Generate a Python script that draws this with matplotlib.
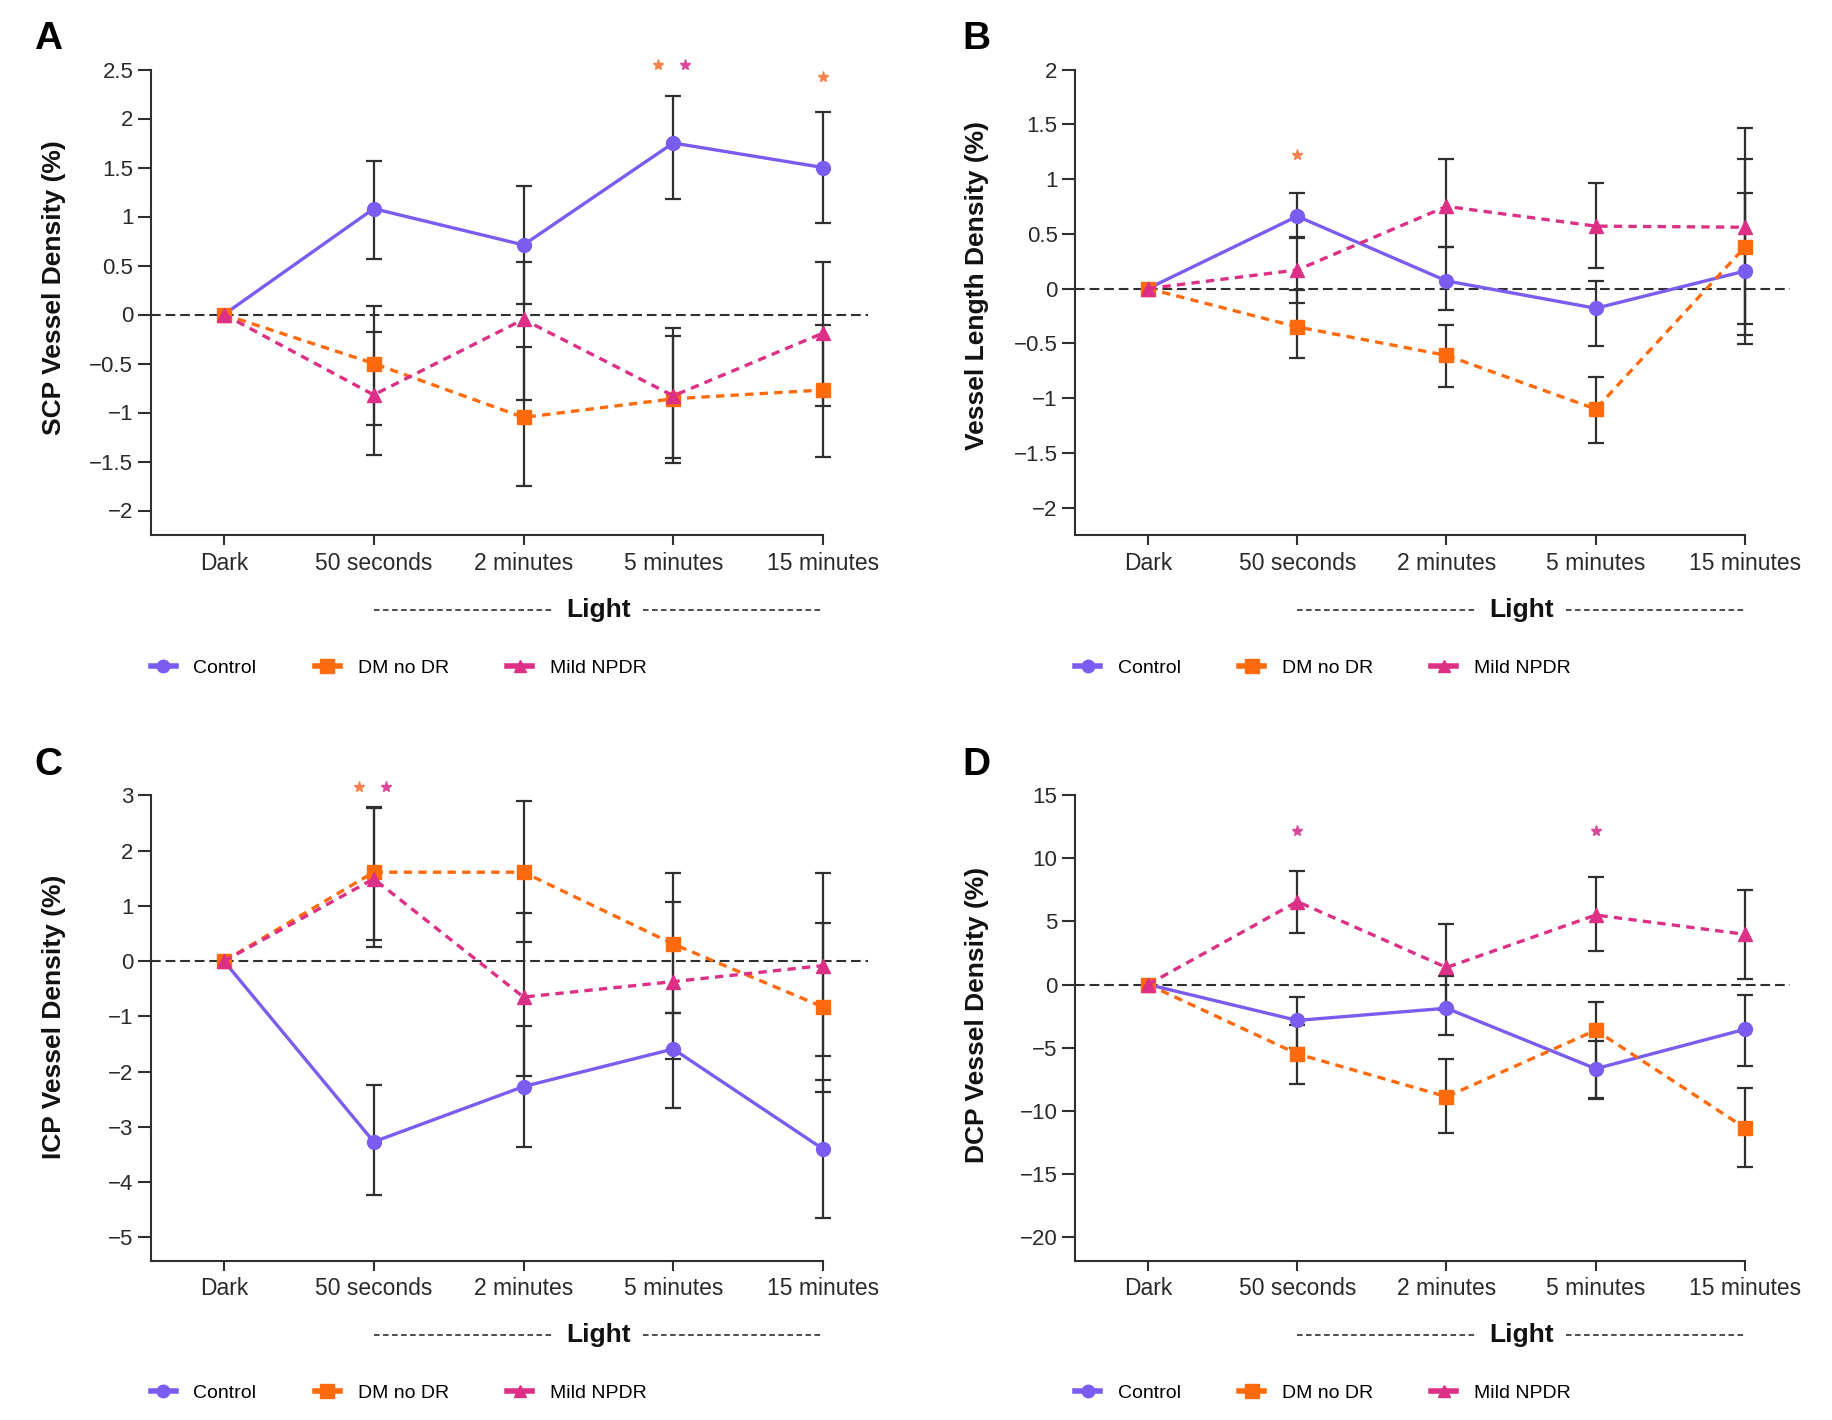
import matplotlib.pyplot as plt
from matplotlib.lines import Line2D
from matplotlib import transforms

plt.rcParams['font.family'] = ['Liberation Sans', 'DejaVu Sans']
plt.rcParams['lines.scale_dashes'] = False

W, H = 1833, 1420

timepoints = ['Dark', '50 seconds', '2 minutes', '5 minutes', '15 minutes']
groups = ['Control', 'DM no DR', 'Mild NPDR']

# A - SCP vessel density: mean, lower bound, upper bound of error bars
scp_control = [0, 1.08, 0.71, 1.75, 1.50]
scp_control_lo = [0, 0.57, 0.11, 1.18, 0.93]
scp_control_hi = [0, 1.57, 1.31, 2.23, 2.07]
scp_dm = [0, -0.50, -1.05, -0.86, -0.77]
scp_dm_lo = [0, -1.13, -1.75, -1.52, -1.45]
scp_dm_hi = [0, 0.09, -0.33, -0.14, -0.11]
scp_mild = [0, -0.82, -0.05, -0.83, -0.19]
scp_mild_lo = [0, -1.43, -0.87, -1.46, -0.93]
scp_mild_hi = [0, -0.18, 0.54, -0.22, 0.54]

# B - vessel length density
vld_control = [0, 0.66, 0.07, -0.18, 0.16]
vld_control_lo = [0, 0.46, -0.20, -0.52, -0.51]
vld_control_hi = [0, 0.87, 0.38, 0.07, 0.87]
vld_dm = [0, -0.35, -0.61, -1.10, 0.38]
vld_dm_lo = [0, -0.63, -0.90, -1.41, -0.42]
vld_dm_hi = [0, -0.01, -0.33, -0.81, 1.18]
vld_mild = [0, 0.17, 0.75, 0.57, 0.56]
vld_mild_lo = [0, -0.13, 0.38, 0.19, -0.32]
vld_mild_hi = [0, 0.47, 1.18, 0.96, 1.47]

# C - ICP vessel density
icp_control = [0, -3.27, -2.27, -1.59, -3.40]
icp_control_lo = [0, -4.24, -3.36, -2.66, -4.65]
icp_control_hi = [0, -2.25, -1.18, -0.94, -2.15]
icp_dm = [0, 1.61, 1.61, 0.31, -0.83]
icp_dm_lo = [0, 0.38, 0.34, -0.94, -2.36]
icp_dm_hi = [0, 2.79, 2.90, 1.59, 0.69]
icp_mild = [0, 1.49, -0.65, -0.37, -0.08]
icp_mild_lo = [0, 0.26, -2.07, -1.78, -1.71]
icp_mild_hi = [0, 2.77, 0.88, 1.07, 1.59]

# D - DCP vessel density
dcp_control = [0, -2.85, -1.88, -6.68, -3.55]
dcp_control_lo = [0, -5.0, -4.02, -9.0, -6.47]
dcp_control_hi = [0, -0.96, 0.70, -4.50, -0.85]
dcp_dm = [0, -5.50, -8.90, -3.63, -11.38]
dcp_dm_lo = [0, -7.90, -11.75, -9.10, -14.50]
dcp_dm_hi = [0, -3.20, -5.94, -1.35, -8.18]
dcp_mild = [0, 6.58, 1.35, 5.51, 3.98]
dcp_mild_lo = [0, 4.05, -2.00, 2.67, 0.43]
dcp_mild_hi = [0, 9.03, 4.76, 8.50, 7.50]

# significance stars: (time index, group, height)
scp_stars = [(3, 'DM no DR', 2.55), (3, 'Mild NPDR', 2.55), (4, 'DM no DR', 2.42)]
vld_stars = [(1, 'DM no DR', 1.22)]
icp_stars = [(1, 'DM no DR', 3.15), (1, 'Mild NPDR', 3.15)]
dcp_stars = [(1, 'Mild NPDR', 12.2), (3, 'Mild NPDR', 12.2)]

scp_ticks = [-2, -1.5, -1, -0.5, 0, 0.5, 1, 1.5, 2, 2.5]
scp_ticklabels = ['\u22122', '\u22121.5', '\u22121', '\u22120.5', '0', '0.5', '1', '1.5', '2', '2.5']
vld_ticks = [-2, -1.5, -1, -0.5, 0, 0.5, 1, 1.5, 2]
vld_ticklabels = ['\u22122', '\u22121.5', '\u22121', '\u22120.5', '0', '0.5', '1', '1.5', '2']
icp_ticks = [-5, -4, -3, -2, -1, 0, 1, 2, 3]
icp_ticklabels = ['\u22125', '\u22124', '\u22123', '\u22122', '\u22121', '0', '1', '2', '3']
dcp_ticks = [-20, -15, -10, -5, 0, 5, 10, 15]
dcp_ticklabels = ['\u221220', '\u221215', '\u221210', '\u22125', '0', '5', '10', '15']

colors = {'Control': '#7B5CF0', 'DM no DR': '#FF6A0D', 'Mild NPDR': '#DC2F86'}
star_colors = {'DM no DR': '#F5834E', 'Mild NPDR': '#D9489A'}
markers = {'Control': 'o', 'DM no DR': 's', 'Mild NPDR': '^'}
styles = {'Control': '-', 'DM no DR': (0, (6, 4.5)), 'Mild NPDR': (0, (6, 4.5))}
msizes = {'Control': 10, 'DM no DR': 10.5, 'Mild NPDR': 9.5}

XLIM = (-0.49, 4.3)
dark = '#2f2f2f'

fig = plt.figure(figsize=(W / 100, H / 100), dpi=100)


def make_panel(letter, ylabel, data, stars, ticks, ticklabels,
               x0_px, x4_px, bottom_px, ylo, ytick_top, ytick_top_px, ytop,
               ylabel_px, light_px, legend_px, letter_px):
    u = (x4_px - x0_px) / 4
    left_px = x0_px + XLIM[0] * u
    right_px = x0_px + XLIM[1] * u
    v = (bottom_px - ytick_top_px) / (ytick_top - ylo)
    top_px = ytick_top_px - (ytop - ytick_top) * v
    ax = fig.add_axes([left_px / W, 1 - bottom_px / H,
                       (right_px - left_px) / W, (bottom_px - top_px) / H])
    ax.set_xlim(*XLIM)
    ax.set_ylim(ylo, ytop)

    x = list(range(len(timepoints)))
    ax.axhline(0, color=dark, lw=1.5, ls=(0, (7, 3.5)), zorder=1)

    for g in groups:
        mean, lo, hi = data[g]
        ax.errorbar(x[1:], mean[1:],
                    yerr=[[m - l for m, l in zip(mean[1:], lo[1:])],
                          [h - m for m, h in zip(mean[1:], hi[1:])]],
                    fmt='none', ecolor=dark, elinewidth=1.6, capsize=5.5,
                    capthick=1.6, zorder=2)
    for g in groups:
        mean = data[g][0]
        ax.plot(x, mean, color=colors[g], ls=styles[g], lw=2.4,
                marker=markers[g], ms=msizes[g], mec=colors[g], zorder=3)

    # stars
    for idx, g, yv in stars:
        n_same = sum(1 for s in stars if s[0] == idx)
        off = 0 if n_same == 1 else (-0.1 if g == 'DM no DR' else 0.08)
        ax.plot(idx + off, yv, marker='*', ms=8, color=star_colors[g],
                mec=star_colors[g], ls='none', clip_on=False, zorder=4)

    ax.spines['top'].set_visible(False)
    ax.spines['right'].set_visible(False)
    for s in ['left', 'bottom']:
        ax.spines[s].set_color(dark)
        ax.spines[s].set_linewidth(1.5)
    ax.spines['left'].set_bounds(ylo, ytick_top)
    ax.spines['bottom'].set_bounds(XLIM[0], 4)

    ax.set_yticks(ticks)
    ax.set_yticklabels(ticklabels)
    ax.set_xticks(x)
    ax.set_xticklabels(timepoints)
    ax.tick_params(axis='y', length=9.5, width=1.5, color=dark, pad=3,
                   labelsize=16, labelcolor='#2a2a2a')
    ax.tick_params(axis='x', length=7, width=1.5, color=dark, pad=5,
                   labelsize=16.5, labelcolor='#2a2a2a')

    ax.set_ylabel(ylabel, fontsize=19, fontweight='bold', color='#111111',
                  va='center')
    ax.yaxis.set_label_coords((ylabel_px - left_px) / (right_px - left_px), 0.5)

    # "Light" line under the axis
    tr = transforms.blended_transform_factory(ax.transData, fig.transFigure)
    ly = 1 - light_px / H
    ax.plot([1, 2.2], [ly, ly], transform=tr, color=dark, lw=1.2,
            ls=(0, (4, 2.5)), clip_on=False)
    ax.plot([2.8, 4], [ly, ly], transform=tr, color=dark, lw=1.2,
            ls=(0, (4, 2.5)), clip_on=False)
    ax.text(2.5, ly, 'Light', transform=tr, ha='center', va='center',
            fontsize=19, fontweight='bold', color='#111111')

    # legend
    handles = [Line2D([], [], color=colors[g], lw=4, marker=markers[g],
                      ms=msizes[g] - 1, mec=colors[g]) for g in groups]
    ax.legend(handles, groups, loc='center left', ncol=3, frameon=False,
              bbox_to_anchor=(left_px / W, 1 - legend_px / H),
              bbox_transform=fig.transFigure, borderaxespad=0, borderpad=0,
              handlelength=1.3, handletextpad=0.9, columnspacing=3.0,
              prop={'size': 14})

    fig.text(letter_px[0] / W, 1 - letter_px[1] / H, letter, fontsize=28,
             fontweight='bold', ha='left', va='center')
    return ax


make_panel('A', 'SCP Vessel Density (%)',
           {'Control': (scp_control, scp_control_lo, scp_control_hi),
            'DM no DR': (scp_dm, scp_dm_lo, scp_dm_hi),
            'Mild NPDR': (scp_mild, scp_mild_lo, scp_mild_hi)},
           scp_stars, scp_ticks, scp_ticklabels,
           224, 823, 535, -2.25, 2.5, 69.5, 2.8, 54, 610, 668, (34, 39))

make_panel('B', 'Vessel Length Density (%)',
           {'Control': (vld_control, vld_control_lo, vld_control_hi),
            'DM no DR': (vld_dm, vld_dm_lo, vld_dm_hi),
            'Mild NPDR': (vld_mild, vld_mild_lo, vld_mild_hi)},
           vld_stars, vld_ticks, vld_ticklabels,
           1148, 1745, 535, -2.25, 2, 69.5, 2.3, 977, 610, 668, (962, 39))

make_panel('C', 'ICP Vessel Density (%)',
           {'Control': (icp_control, icp_control_lo, icp_control_hi),
            'DM no DR': (icp_dm, icp_dm_lo, icp_dm_hi),
            'Mild NPDR': (icp_mild, icp_mild_lo, icp_mild_hi)},
           icp_stars, icp_ticks, icp_ticklabels,
           224, 823, 1260.6, -5.42, 3, 795.4, 3.4, 54, 1335, 1393, (34, 765))

make_panel('D', 'DCP Vessel Density (%)',
           {'Control': (dcp_control, dcp_control_lo, dcp_control_hi),
            'DM no DR': (dcp_dm, dcp_dm_lo, dcp_dm_hi),
            'Mild NPDR': (dcp_mild, dcp_mild_lo, dcp_mild_hi)},
           dcp_stars, dcp_ticks, dcp_ticklabels,
           1148, 1745, 1260.6, -21.9, 15, 795.4, 17, 977, 1335, 1393, (962, 765))

fig.savefig('out.png', dpi=100, facecolor='white')
